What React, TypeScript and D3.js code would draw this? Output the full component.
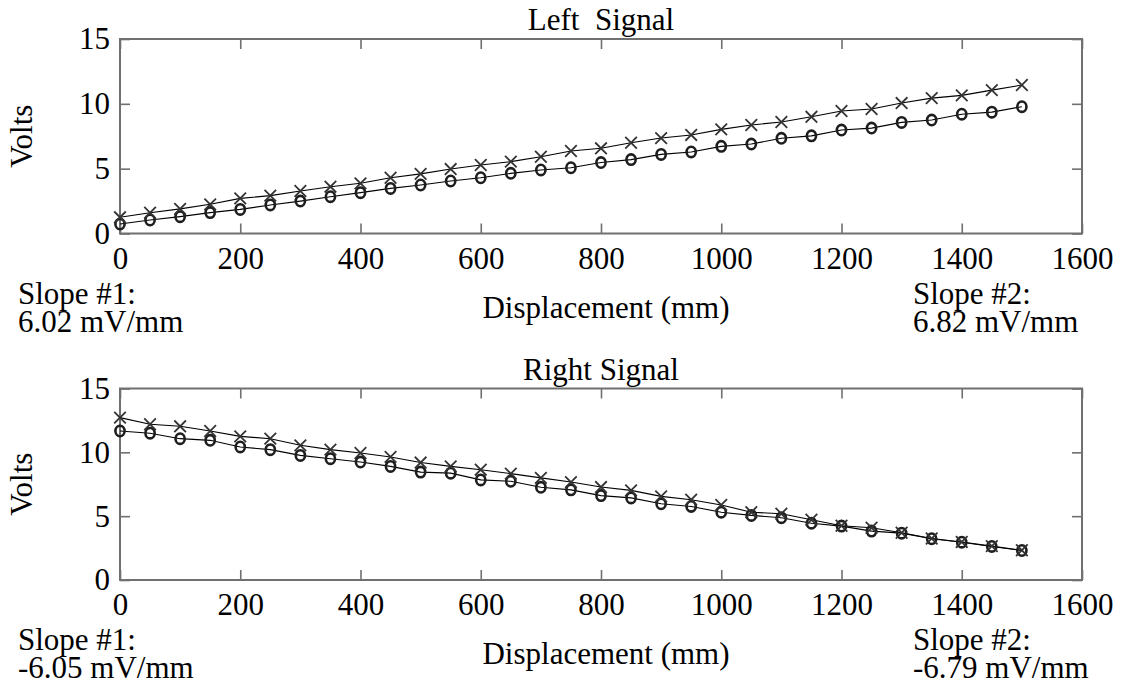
import { useRef, useEffect } from 'react';
import { select, scaleLinear, axisBottom, axisLeft, axisTop, axisRight, line } from 'd3';

const W = 1121;
const H = 687;
const FONT = '"Liberation Serif", "Times New Roman", serif';
const FS = '31px';

// displacement (mm)
const displacement = [0, 50, 100, 150, 200, 250, 300, 350, 400, 450, 500, 550, 600, 650, 700, 750,
    800, 850, 900, 950, 1000, 1050, 1100, 1150, 1200, 1250, 1300, 1350, 1400, 1450, 1500];

// Left signal (volts)
const leftCross = [1.25, 1.6, 1.9, 2.25, 2.71, 2.92, 3.28, 3.61, 3.87, 4.3, 4.6, 4.97, 5.28, 5.54, 5.92, 6.36,
    6.57, 7.0, 7.36, 7.6, 8.03, 8.37, 8.6, 9.0, 9.45, 9.6, 10.06, 10.44, 10.65, 11.06, 11.45];
const leftCircle = [0.73, 1.04, 1.3, 1.61, 1.86, 2.2, 2.5, 2.84, 3.15, 3.48, 3.74, 4.05, 4.3, 4.64, 4.9, 5.07,
    5.47, 5.7, 6.1, 6.29, 6.72, 6.9, 7.34, 7.53, 7.98, 8.13, 8.57, 8.75, 9.2, 9.36, 9.78];

// Right signal (volts)
const rightCross = [12.72, 12.2, 12.04, 11.67, 11.25, 11.07, 10.55, 10.21, 9.95, 9.64, 9.2, 8.9, 8.64, 8.33, 8.0, 7.67,
    7.28, 7.02, 6.55, 6.29, 5.88, 5.31, 5.19, 4.72, 4.25, 4.09, 3.7, 3.25, 2.98, 2.65, 2.33];
const rightCircle = [11.67, 11.5, 11.07, 10.94, 10.42, 10.21, 9.76, 9.5, 9.24, 8.9, 8.45, 8.37, 7.84, 7.73, 7.26, 7.06,
    6.61, 6.43, 5.97, 5.76, 5.31, 5.06, 4.88, 4.45, 4.22, 3.83, 3.67, 3.23, 2.96, 2.63, 2.31];

const xTicks = [0, 200, 400, 600, 800, 1000, 1200, 1400, 1600];
const yTicks = [0, 5, 10, 15];

const panels = [
    { title: 'Left\u00a0 Signal', top: 39, bottom: 233.5, cross: leftCross, circle: leftCircle, slope1: '6.02 mV/mm', slope2: '6.82 mV/mm' },
    { title: 'Right Signal', top: 388.5, bottom: 580, cross: rightCross, circle: rightCircle, slope1: '-6.05 mV/mm', slope2: '-6.79 mV/mm' },
];

const left = 120;
const right = 1082;
const axisColor = '#707070';

const App = () => {
    const d3svg = useRef(null);

    useEffect(() => {
        if (!d3svg.current) return;
        const svg = select(d3svg.current);
        svg.selectAll('*').remove();
        svg.append('rect').attr('width', W).attr('height', H).attr('fill', 'white');

        panels.forEach(p => {
            const g = svg.append('g').style('font-family', FONT);
            const x = scaleLinear().domain([0, 1600]).range([left, right]);
            const y = scaleLinear().domain([0, 15]).range([p.bottom, p.top]);
            const plotH = p.bottom - p.top;
            const plotW = right - left;

            // ticks on four sides, pointing inward
            const bottomAxis = g.append('g').attr('transform', `translate(0, ${p.bottom})`)
                .call(axisBottom(x).tickValues(xTicks).tickSize(-10).tickSizeOuter(0).tickPadding(13)
                    .tickFormat(d => String(d)));
            g.append('g').attr('transform', `translate(0, ${p.top})`)
                .call(axisTop(x).tickValues(xTicks).tickSize(-10).tickSizeOuter(0).tickFormat(() => ''));
            const leftAxis = g.append('g').attr('transform', `translate(${left}, 0)`)
                .call(axisLeft(y).tickValues(yTicks).tickSize(-10).tickSizeOuter(0).tickPadding(10)
                    .tickFormat(d => String(d)));
            g.append('g').attr('transform', `translate(${right}, 0)`)
                .call(axisRight(y).tickValues(yTicks).tickSize(-10).tickSizeOuter(0).tickFormat(() => ''));

            g.selectAll('.domain').remove();
            g.selectAll('.tick line').attr('stroke', axisColor).attr('stroke-width', 1.6);
            [bottomAxis, leftAxis].forEach(a => a.selectAll('text')
                .style('font-family', FONT).style('font-size', FS).attr('fill', '#000'));

            g.append('rect')
                .attr('x', left).attr('y', p.top).attr('width', plotW).attr('height', plotH)
                .attr('fill', 'none').attr('stroke', axisColor).attr('stroke-width', 2);

            // connecting lines
            const path = line<number>().x((d, i) => x(displacement[i])).y(d => y(d));
            [p.cross, p.circle].forEach(series => {
                g.append('path').attr('d', path(series))
                    .attr('fill', 'none').attr('stroke', '#000').attr('stroke-width', 1.1);
            });

            // circle markers
            g.selectAll(null).data(p.circle).enter().append('ellipse')
                .attr('cx', (d, i) => x(displacement[i])).attr('cy', d => y(d))
                .attr('rx', 4.6).attr('ry', 5.2)
                .attr('fill', 'none').attr('stroke', '#1e1e1e').attr('stroke-width', 2.6);

            // cross markers
            const s = 5.8;
            g.selectAll(null).data(p.cross).enter().append('path')
                .attr('d', (d, i) => {
                    const cx = x(displacement[i]);
                    const cy = y(d);
                    return `M${cx - s},${cy - s}L${cx + s},${cy + s}M${cx - s},${cy + s}L${cx + s},${cy - s}`;
                })
                .attr('stroke', '#333').attr('stroke-width', 1.8).attr('fill', 'none');

            const text = (str, tx, ty, anchor = 'start') => g.append('text')
                .attr('x', tx).attr('y', ty).attr('text-anchor', anchor)
                .style('font-size', FS).attr('fill', '#000').text(str);

            text(p.title, (left + right) / 2, p.top - 9, 'middle');
            g.append('text')
                .attr('transform', `translate(32, ${(p.top + p.bottom) / 2}) rotate(-90)`)
                .attr('text-anchor', 'middle')
                .style('font-size', FS).text('Volts');
            text('Displacement (mm)', 606, p.bottom + 84, 'middle');
            text('Slope #1:', 18, p.bottom + 70);
            text(p.slope1, 18, p.bottom + 98);
            text('Slope #2:', 913, p.bottom + 70);
            text(p.slope2, 913, p.bottom + 98);
        });
    }, []);

    return (
        <svg
            ref={d3svg}
            width={W}
            height={H}
            style={{ position: 'absolute', left: 0, top: 0 }}
        ></svg>
    );
};

export default App;
